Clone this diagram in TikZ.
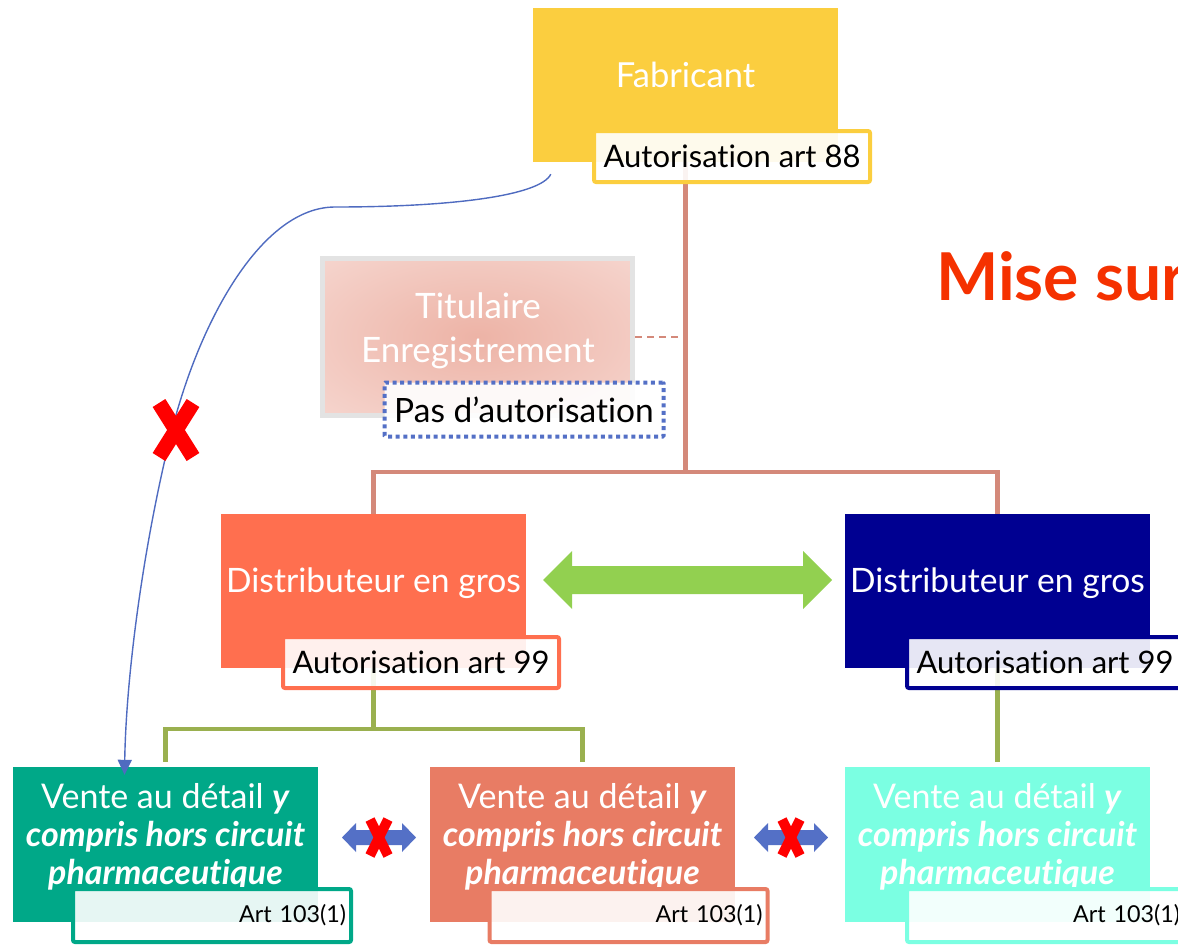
\documentclass[tikz,border=0pt]{standalone}
\usepackage{fontspec}
\setmainfont{Lato}[Ligatures=NoCommon]
\usetikzlibrary{arrows.meta,calc,backgrounds}
\definecolor{cYellow}{HTML}{FBCE3F}
\definecolor{cTree}{HTML}{D4897A}
\definecolor{cGrayB}{HTML}{E3E3E3}
\definecolor{titIn}{HTML}{EDB3A6}
\definecolor{titOut}{HTML}{FAE7E3}
\definecolor{cDot}{HTML}{5470C6}
\definecolor{cOrange}{HTML}{FF6F4F}
\definecolor{cNavy}{HTML}{000091}
\definecolor{cGreen}{HTML}{92D050}
\definecolor{cOlive}{HTML}{9AB04F}
\definecolor{cTeal}{HTML}{00A888}
\definecolor{cSalmon}{HTML}{E87C64}
\definecolor{cAqua}{HTML}{7BFFE2}
\definecolor{cRedX}{HTML}{FF0000}
\definecolor{cTitle}{HTML}{F53100}
\definecolor{cCurve}{HTML}{4F6BC0}
\pgfdeclareradialshading{titshade}{\pgfpoint{0bp}{0bp}}{color(0bp)=(titIn); color(55bp)=(titOut); color(75bp)=(titOut)}
\begin{document}
\begin{tikzpicture}[x=1pt,y=-1pt,
  box/.style={rectangle, inner sep=0pt, minimum width=305pt, minimum height=154pt, draw=none},
  wtext/.style={text=white, align=center, inner sep=0pt},
  lab/.style={rectangle, rounded corners=2pt, line width=4pt, fill=white, fill opacity=0.9, text opacity=1,
    minimum width=276pt, minimum height=51pt, inner sep=0pt, font=\fontsize{31}{33}\selectfont},
  artlab/.style={rectangle, rounded corners=2pt, line width=4pt, fill=white, fill opacity=0.9, text opacity=1,
    minimum width=278pt, minimum height=53pt, inner sep=0pt, text width=268pt, align=right,
    font=\fontsize{23.3}{25}\selectfont},
  vtext/.style={wtext, font=\fontsize{34}{38}\selectfont},
  tree/.style={draw=cTree, line width=4.5pt},
  olive/.style={draw=cOlive, line width=4.5pt},
  redx/.style={draw=cRedX, line cap=butt},
  fatarrow/.style={fill=cGreen},
  smallarrow/.style={fill=cDot},
]
\useasboundingbox (0,0) rectangle (1178,946);

% title
\node[anchor=base west, text=cTitle, font=\bfseries\fontsize{66}{66}\selectfont, inner sep=0pt] (mise) at (936,300) {Mise sur};

% Fabricant
\node[box, fill=cYellow] (fab) at (685.5,85) {};
\node[wtext, font=\fontsize{34.5}{36}\selectfont] (fabt) at ([yshift=10pt]fab.center) {Fabricant};
\node[lab, draw=cYellow] (lab88) at (732,156.5) {Autorisation art 88};

% Titulaire
\node[rectangle, inner sep=0pt, minimum width=310pt, minimum height=157pt, draw=cGrayB, line width=5pt,
  shade, shading=titshade] (tit) at (477.5,337) {};
\node[wtext, font=\fontsize{35}{44}\selectfont] (titt) at (478,331) {Titulaire\\Enregistrement};
\node[lab, draw=cDot, rounded corners=1pt, dash pattern=on 4pt off 3.6pt, minimum width=279pt, minimum height=54pt,
  font=\fontsize{33.5}{35}\selectfont] (pas) at (524,409.5) {Pas d’autorisation};

% Distributeurs
\node[box, fill=cOrange] (distL) at (373.5,591) {};
\node[wtext, font=\fontsize{33.6}{35}\selectfont] (distLt) at ([yshift=8pt]distL.center) {Distributeur en gros};
\node[lab, draw=cOrange] (lab99L) at (421,662.5) {Autorisation art 99};

\node[box, fill=cNavy] (distR) at (997.5,591) {};
\node[wtext, font=\fontsize{33.6}{35}\selectfont] (distRt) at ([yshift=8pt]distR.center) {Distributeur en gros};
\node[lab, draw=cNavy] (lab99R) at (1045,662.5) {Autorisation art 99};

% green double arrow
\fill[fatarrow] ([xshift=17pt,yshift=11pt]distL.east) -- ++(29,-29) -- ++(0,15) -- ++(231,0) -- ++(0,-15) -- ++(29,29)
  -- ++(-29,29) -- ++(0,-15) -- ++(-231,0) -- ++(0,15) -- cycle;

% Vente boxes
\node[box, minimum height=155pt, fill=cTeal] (vL) at (165.5,844.5) {};
\node[vtext] (vLt) at ([yshift=8pt]vL.center) {Vente au détail \textbf{\textit{y}}\\\textbf{\textit{compris hors circuit}}\\\textbf{\textit{pharmaceutique}}};
\node[artlab, draw=cTeal] (aL) at (212,915.5) {Art 103(1)};

\node[box, minimum height=155pt, fill=cSalmon] (vM) at (582.5,844.5) {};
\node[vtext] (vMt) at ([yshift=8pt]vM.center) {Vente au détail \textbf{\textit{y}}\\\textbf{\textit{compris hors circuit}}\\\textbf{\textit{pharmaceutique}}};
\node[artlab, draw=cSalmon] (aM) at (628.5,915.5) {Art 103(1)};

\node[box, minimum height=155pt, fill=cAqua] (vR) at (997.5,844.5) {};
\node[vtext] (vRt) at ([yshift=8pt]vR.center) {Vente au détail \textbf{\textit{y}}\\\textbf{\textit{compris hors circuit}}\\\textbf{\textit{pharmaceutique}}};
\node[artlab, draw=cAqua] (aR) at (1046,915.5) {Art 103(1)};

% small blue double arrows with red crosses
\coordinate (s1) at ($(vL.east)!0.5!(vM.west)+(5,-7)$);
\coordinate (s2) at ($(vM.east)!0.5!(vR.west)+(1,-7)$);
\foreach \c in {s1,s2}{
  \fill[smallarrow] ([xshift=-37pt]\c) -- ++(14,-14.5) -- ++(0,7) -- ++(46,0) -- ++(0,-7) -- ++(14,14.5)
    -- ++(-14,14.5) -- ++(0,-7) -- ++(-46,0) -- ++(0,7) -- cycle;
  \draw[redx, line width=10pt] ([shift={(-9,-18)}]\c) -- ([shift={(9,18)}]\c);
  \draw[redx, line width=10pt] ([shift={(9,-18)}]\c) -- ([shift={(-9,18)}]\c);
}

% connectors
\begin{scope}[on background layer]
\coordinate (j1) at (685.5,472);
\draw[tree] (fab.south) -- (j1);
\draw[tree] (distL.north) |- (j1) -| (distR.north);
\draw[draw=cTree, line width=1.2pt, dash pattern=on 7pt off 5pt] (tit.east) -- (tit.east -| j1);
\coordinate (j2) at (373.5,729);
\draw[olive] (distL.south) -- (j2);
\draw[olive, shorten <=5pt, shorten >=5pt] (vL.north) |- (j2) -| (vM.north);
\draw[olive, shorten >=5pt] (distR.south) -- (vR.north);
\end{scope}

% blue curve
\draw[draw=cCurve, line width=1.4pt, -{Triangle[length=15pt,width=14pt]}]
  ([xshift=18pt,yshift=-12pt]fab.south west) .. controls (540,196) and (450,207) .. (335,207)
  .. controls (262,207) and (200,320) .. (172,430)
  .. controls (142,550) and (126,680) .. ([xshift=-41pt,yshift=-8pt]vL.north);

% big red cross
\coordinate (bx) at (176,430);
\draw[redx, line width=15pt] ([shift={(-17,-27)}]bx) -- ([shift={(17,27)}]bx);
\draw[redx, line width=15pt] ([shift={(17,-27)}]bx) -- ([shift={(-17,27)}]bx);
\end{tikzpicture}
\end{document}
